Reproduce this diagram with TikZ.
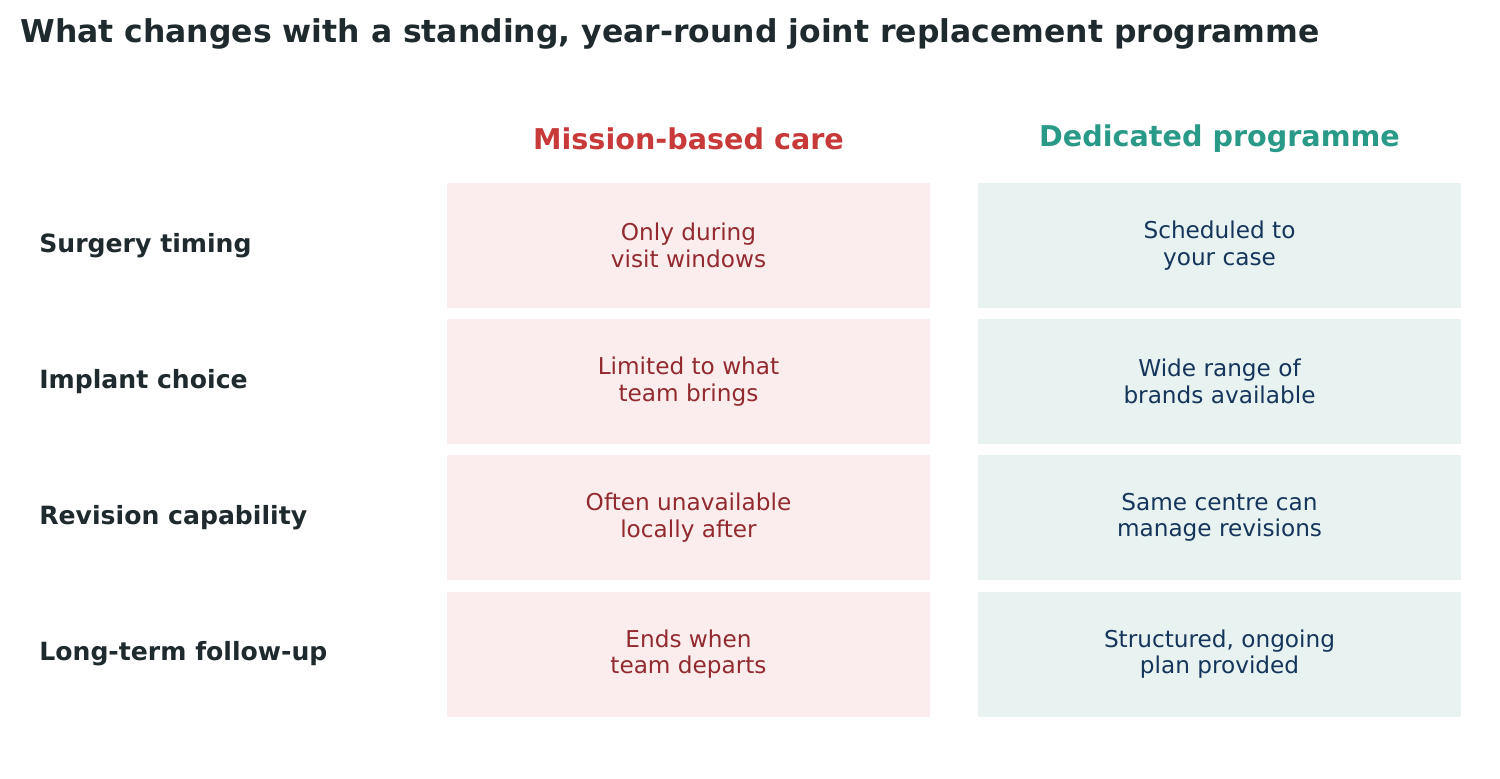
\documentclass[tikz,border=0pt]{standalone}
\usepackage{fontspec}
\setmainfont{DejaVu Sans}
\definecolor{ink}{HTML}{1E2A2E}
\definecolor{misred}{HTML}{C8393A}
\definecolor{dedteal}{HTML}{2A9A88}
\definecolor{misfill}{HTML}{FBEDED}
\definecolor{dedfill}{HTML}{E8F2F1}
\definecolor{mistext}{HTML}{922A30}
\definecolor{dedtext}{HTML}{15365A}
\tikzset{
  cell/.style={minimum width=9.66cm, minimum height=2.5cm, align=center, font=\fontsize{13.2}{15}\selectfont, inner sep=0pt},
  mis/.style={cell, fill=misfill, text=mistext},
  ded/.style={cell, fill=dedfill, text=dedtext},
  rowlab/.style={anchor=west, inner sep=0pt, text=ink, font=\fontsize{14.3}{17}\selectfont\bfseries},
  head/.style={font=\fontsize{16.3}{19}\selectfont\bfseries}
}
\begin{document}
\begin{tikzpicture}[x=0.02cm, y=-0.02cm]
      \useasboundingbox (0,0) rectangle (1500,778);
      % Title
      \node[anchor=west, inner sep=0pt, text=ink, font=\fontsize{17.9}{21}\selectfont\bfseries] (title) at (20,34) {What changes with a standing, year-round joint replacement programme};

      % Column heads
      \node[head, text=misred] (hmis) at (688.5,139) {Mission-based care};
      \node[head, text=dedteal] (hded) at (1219.5,139) {Dedicated programme};

      % Rows
      \foreach \y/\name/\lab/\a/\b in {
        245.5/r1/{Surgery timing}/{Only during\\visit windows}/{Scheduled to\\your case},
        381.5/r2/{Implant choice}/{Limited to what\\team brings}/{Wide range of\\brands available},
        517.5/r3/{Revision capability}/{Often unavailable\\locally after}/{Same centre can\\manage revisions},
        654/r4/{Long-term follow-up}/{Ends when\\team departs}/{Structured, ongoing\\plan provided}} {
        \node[rowlab] (\name) at (39,\y) {\lab};
        \node[mis] (\name m) at (688.5,\y) {\a};
        \node[ded] (\name d) at (1219.5,\y) {\b};
      }
\end{tikzpicture}
\end{document}
